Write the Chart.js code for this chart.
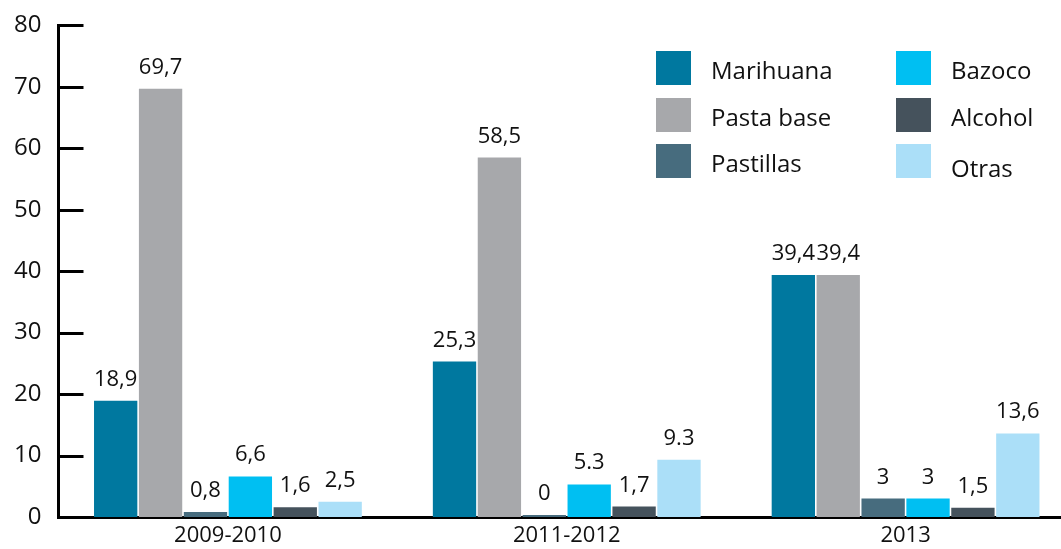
<!DOCTYPE html>
<html>
<head>
<meta charset="utf-8">
<script src="https://cdn.jsdelivr.net/npm/chart.js@4"></script>
<style>
  html, body { margin: 0; padding: 0; background: #fff; overflow: hidden; }
  #wrap { width: 1075px; height: 555px; margin-top: -6px; }
</style>
</head>
<body>
<div id="wrap"><canvas id="chart"></canvas></div>
<script>
const periods = ['2009-2010', '2011-2012', '2013'];
const drugs = ['Marihuana', 'Pasta base', 'Pastillas', 'Bazoco', 'Alcohol', 'Otras'];
const colors = ['#00789f', '#a7a8ab', '#476c7e', '#00bff2', '#45525c', '#abdff8'];

const marihuana = [18.9, 25.3, 39.4];
const pastaBase = [69.7, 58.5, 39.4];
const pastillas = [0.8, 0, 3];
const bazoco = [6.6, 5.3, 3];
const alcohol = [1.6, 1.7, 1.5];
const otras = [2.5, 9.3, 13.6];

// value labels as printed in the source
const marihuanaLbl = ['18,9', '25,3', '39,4'];
const pastaBaseLbl = ['69,7', '58,5', '39,4'];
const pastillasLbl = ['0,8', '0', '3'];
const bazocoLbl = ['6,6', '5.3', '3'];
const alcoholLbl = ['1,6', '1,7', '1,5'];
const otrasLbl = ['2,5', '9.3', '13,6'];

const yTicks = [0, 10, 20, 30, 40, 50, 60, 70, 80];

const series = [marihuana, pastaBase, pastillas, bazoco, alcohol, otras];
const seriesLbl = [marihuanaLbl, pastaBaseLbl, pastillasLbl, bazocoLbl, alcoholLbl, otrasLbl];

const FONT = "'Open Sans', sans-serif";

// value labels above each bar
const valueLabels = {
    id: 'valueLabels',
    afterDatasetsDraw(chart) {
        const ctx = chart.ctx;
        ctx.save();
        ctx.font = '22px ' + FONT;
        ctx.fillStyle = '#111';
        ctx.textAlign = 'center';
        ctx.textBaseline = 'alphabetic';
        chart.data.datasets.forEach((ds, i) => {
            chart.getDatasetMeta(i).data.forEach((bar, j) => {
                ctx.fillText(ds.valueText[j], bar.x, bar.y - 15);
            });
        });
        ctx.restore();
    }
};

// short tick marks drawn inward from the y axis
const innerTicks = {
    id: 'innerTicks',
    afterDraw(chart) {
        const ctx = chart.ctx;
        const y = chart.scales.y;
        ctx.save();
        ctx.strokeStyle = '#000';
        ctx.lineWidth = 3;
        y.ticks.forEach(t => {
            const py = Math.round(y.getPixelForValue(t.value)) + 0.5;
            ctx.beginPath();
            ctx.moveTo(y.right, py);
            ctx.lineTo(y.right + 25, py);
            ctx.stroke();
        });
        ctx.restore();
    }
};

// two-column legend in the top right corner (page coords, canvas is shifted up 6px)
const gridLegend = {
    id: 'gridLegend',
    afterDraw(chart) {
        const ctx = chart.ctx;
        ctx.save();
        ctx.font = '24px ' + FONT;
        ctx.textBaseline = 'alphabetic';
        ctx.textAlign = 'left';
        const rowsY = [57, 104, 150];
        chart.data.datasets.forEach((ds, i) => {
            const col = Math.floor(i / 3);
            const row = i % 3;
            const x = col === 0 ? 656 : 896;
            const y = rowsY[row];
            ctx.fillStyle = ds.backgroundColor;
            ctx.fillRect(x, y, 35, 34);
            ctx.fillStyle = '#111';
            ctx.fillText(ds.label, x + 55, y + 28 + (i === 5 ? 5 : 0));
        });
        ctx.restore();
    }
};

const datasets = drugs.map((name, i) => ({
    label: name,
    data: series[i],
    valueText: seriesLbl[i],
    backgroundColor: colors[i],
    borderWidth: 0,
    categoryPercentage: 0.795,
    barPercentage: 0.965,
    minBarLength: i === 2 ? 2 : 0
}));

new Chart(document.getElementById('chart'), {
    type: 'bar',
    data: { labels: periods, datasets: datasets },
    options: {
        responsive: true,
        maintainAspectRatio: false,
        animation: false,
        layout: { padding: { top: 3, right: 0, left: 0, bottom: 0 } },
        plugins: {
            legend: { display: false },
            tooltip: { enabled: false }
        },
        scales: {
            x: {
                afterFit(scale) { scale.height = 32; },
                grid: { display: false, drawTicks: false },
                border: { display: true, color: '#000', width: 3 },
                ticks: { color: '#111', font: { family: FONT, size: 22 }, padding: 6 }
            },
            y: {
                min: 0,
                max: 80,
                afterFit(scale) { scale.width = 58.5; },
                afterBuildTicks(scale) { scale.ticks = yTicks.map(v => ({ value: v })); },
                grid: { display: false, drawTicks: false },
                border: { display: true, color: '#000', width: 3 },
                ticks: { color: '#111', font: { family: FONT, size: 24 }, padding: 17 }
            }
        }
    },
    plugins: [valueLabels, innerTicks, gridLegend]
});
</script>
</body>
</html>
